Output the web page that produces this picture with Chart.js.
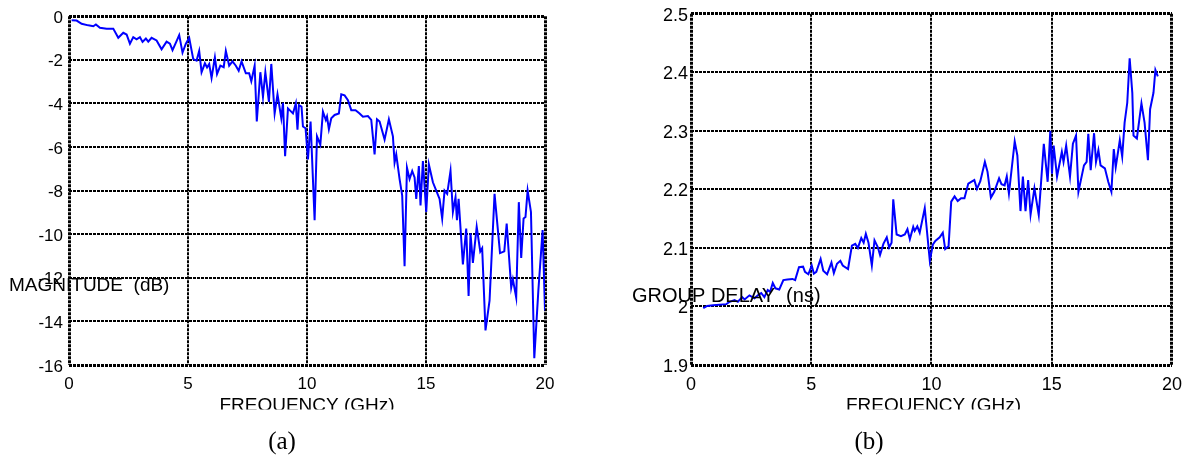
<!DOCTYPE html>
<html><head><meta charset="utf-8">
<script src="https://cdn.jsdelivr.net/npm/chart.js@4.4.1/dist/chart.umd.min.js"></script>
<style>
html,body{margin:0;padding:0;background:#fff;width:1191px;height:459px;overflow:hidden}
canvas{position:absolute;top:0}
#ca{left:0} #cb{left:595px}
</style></head><body>
<canvas id="ca" width="595" height="459"></canvas>
<canvas id="cb" width="596" height="459"></canvas>
<script>
// ---- Data (a): magnitude ----
const magFreq=[0.11,0.32,0.53,0.81,1.02,1.13,1.3,1.58,1.86,2.07,2.28,2.42,2.56,2.7,2.84,2.98,3.09,3.23,3.33,3.47,3.68,3.89,4.1,4.24,4.35,4.52,4.63,4.77,4.91,5.05,5.22,5.36,5.47,5.57,5.71,5.8,5.89,5.99,6.13,6.22,6.36,6.5,6.59,6.73,6.87,7.01,7.13,7.25,7.43,7.57,7.66,7.8,7.89,8.04,8.15,8.25,8.4,8.5,8.64,8.76,8.92,8.99,9.08,9.2,9.41,9.53,9.6,9.66,9.77,9.83,9.94,10.04,10.15,10.32,10.42,10.56,10.67,10.79,10.84,10.92,11.02,11.16,11.34,11.44,11.58,11.72,11.86,12.04,12.21,12.35,12.56,12.7,12.84,12.94,13.05,13.26,13.44,13.61,13.68,13.75,13.89,14.0,14.1,14.2,14.31,14.42,14.52,14.59,14.7,14.77,14.87,15.01,15.12,15.29,15.43,15.57,15.68,15.78,15.89,16.03,16.13,16.24,16.3,16.37,16.55,16.69,16.79,16.87,16.97,17.13,17.28,17.36,17.5,17.67,17.88,18.11,18.29,18.39,18.58,18.65,18.79,18.9,19.0,19.1,19.18,19.27,19.41,19.55,19.72,19.9,20.0];
const magDb=[-0.19,-0.2,-0.35,-0.42,-0.46,-0.38,-0.53,-0.57,-0.57,-0.99,-0.76,-0.84,-1.26,-0.96,-1.06,-0.96,-1.18,-1.02,-1.17,-0.99,-1.11,-1.52,-1.17,-1.26,-1.56,-1.14,-0.87,-1.67,-1.26,-0.99,-1.97,-2.04,-1.59,-2.57,-2.16,-2.35,-2.19,-2.83,-1.89,-2.65,-2.27,-2.34,-1.59,-2.27,-2.07,-2.27,-2.5,-2.07,-2.62,-2.62,-2.98,-2.27,-4.83,-2.57,-3.7,-2.57,-3.93,-2.19,-4.46,-3.58,-4.68,-3.97,-6.42,-4.23,-4.46,-4.0,-5.21,-4.08,-4.15,-5.06,-5.14,-6.57,-4.83,-9.36,-5.51,-5.89,-4.38,-4.76,-4.6,-5.18,-4.68,-4.53,-4.46,-3.58,-3.63,-3.85,-4.31,-4.31,-4.46,-4.61,-4.58,-4.76,-6.34,-4.73,-4.83,-5.66,-4.73,-5.51,-6.72,-6.34,-7.47,-8.23,-11.47,-6.95,-7.47,-7.1,-7.4,-8.38,-6.87,-8.68,-6.64,-8.98,-6.8,-7.62,-8.0,-8.38,-9.28,-8.0,-8.15,-7.1,-8.98,-8.3,-9.36,-8.38,-11.39,-9.74,-12.83,-9.96,-11.32,-9.66,-10.79,-10.64,-14.41,-13.05,-8.15,-10.87,-10.79,-9.51,-12.45,-12.07,-12.9,-8.53,-11.09,-9.28,-9.21,-8.0,-8.98,-15.69,-12.6,-9.81,-13.5];
// ---- Data (b): group delay ----
const gdFreq=[0.51,0.67,0.92,1.47,1.61,1.81,1.95,2.13,2.23,2.43,2.64,2.78,2.92,3.05,3.19,3.29,3.4,3.51,3.67,3.84,4.01,4.22,4.33,4.49,4.66,4.74,4.88,5.02,5.11,5.21,5.39,5.5,5.66,5.84,5.94,6.07,6.21,6.31,6.53,6.69,6.83,6.94,7.08,7.18,7.27,7.38,7.52,7.63,7.77,7.86,8.0,8.14,8.24,8.34,8.41,8.55,8.73,8.89,9.0,9.1,9.24,9.3,9.41,9.51,9.72,9.93,10.06,10.16,10.34,10.47,10.57,10.71,10.82,10.96,11.09,11.23,11.37,11.53,11.65,11.78,11.89,12.03,12.22,12.33,12.47,12.61,12.81,12.91,13.04,13.13,13.22,13.46,13.57,13.7,13.8,13.91,14.02,14.12,14.28,14.46,14.67,14.83,14.94,15.01,15.08,15.22,15.42,15.49,15.6,15.76,15.88,16.01,16.11,16.34,16.45,16.52,16.62,16.76,16.84,16.94,17.03,17.21,17.35,17.48,17.58,17.66,17.83,17.93,18.03,18.14,18.24,18.35,18.4,18.54,18.73,18.86,19.0,19.09,19.23,19.31,19.41];
const gdNs=[1.997,2.001,2.002,2.004,2.008,2.011,2.008,2.016,2.012,2.019,2.014,2.019,2.023,2.016,2.028,2.025,2.04,2.031,2.029,2.045,2.046,2.047,2.045,2.067,2.068,2.059,2.055,2.07,2.056,2.059,2.081,2.061,2.055,2.075,2.057,2.073,2.078,2.07,2.064,2.104,2.107,2.1,2.117,2.109,2.124,2.109,2.07,2.113,2.101,2.088,2.107,2.118,2.101,2.109,2.183,2.123,2.12,2.123,2.132,2.115,2.136,2.129,2.137,2.126,2.168,2.078,2.106,2.112,2.118,2.126,2.098,2.103,2.179,2.188,2.18,2.185,2.185,2.21,2.213,2.216,2.201,2.214,2.247,2.23,2.186,2.196,2.219,2.209,2.207,2.222,2.193,2.282,2.258,2.163,2.222,2.163,2.216,2.157,2.202,2.156,2.278,2.213,2.3,2.227,2.275,2.222,2.264,2.247,2.275,2.222,2.278,2.292,2.196,2.241,2.247,2.295,2.233,2.296,2.247,2.267,2.241,2.236,2.213,2.196,2.269,2.238,2.284,2.256,2.314,2.348,2.424,2.365,2.292,2.287,2.347,2.314,2.25,2.337,2.365,2.404,2.393];
// ---- Tick labels ----
const freqTicks=[0,5,10,15,20];
const magTicks=[0,-2,-4,-6,-8,-10,-12,-14,-16];
const gdTicks=[1.9,2.0,2.1,2.2,2.3,2.4,2.5];

const SANS="'Liberation Sans', Arial, sans-serif";
const SERIF="'Liberation Serif', 'Times New Roman', serif";

function textPlugin(cfg){
  return {id:'txt'+cfg.sub,afterDraw(chart){
    const c=chart.ctx; c.save();
    c.fillStyle='#000'; c.textAlign='left'; c.textBaseline='alphabetic';
    c.font=cfg.yfs+'px '+SANS;
    c.fillText(cfg.yTitle,cfg.yx,cfg.yb);
    c.font='19px '+SANS;
    c.save(); c.beginPath(); c.rect(0,380,chart.width,29.5); c.clip();
    c.textAlign='center'; c.fillText('FREQUENCY (GHz)',cfg.xc,411); c.restore();
    c.textAlign='center'; c.font='25px '+SERIF;
    c.fillText(cfg.sub,cfg.sc,449);
    c.restore();
  }};
}

function makeChart(id,xs,ys,yTicks,opts){
  const pts=xs.map((x,i)=>({x:x,y:ys[i]}));
  const edge=(v,a,b)=> (Math.abs(v-a)<1e-9||Math.abs(v-b)<1e-9);
  return new Chart(document.getElementById(id),{
    type:'line',
    data:{datasets:[{data:pts,borderColor:'#0000ff',borderWidth:2,pointRadius:0,tension:0,fill:false}]},
    options:{
      responsive:false,animation:false,devicePixelRatio:1,
      layout:{padding:{top:10,right:opts.padRight,left:0,bottom:0}},
      plugins:{legend:{display:false},tooltip:{enabled:false}},
      scales:{
        x:{type:'linear',min:0,max:20,
          afterBuildTicks:s=>{s.ticks=freqTicks.map(v=>({value:v}));},
          afterFit:s=>{s.height=94;},
          grid:{color:'#000',lineWidth:c=>edge(c.tick?c.tick.value:0,0,20)?3:2,drawTicks:false},
          border:{display:false,dash:[3,1]},
          ticks:{color:'#000',font:{family:SANS,size:opts.fs},padding:9,maxRotation:0}
        },
        y:{min:opts.ymin,max:opts.ymax,
          afterBuildTicks:s=>{s.ticks=yTicks.map(v=>({value:v}));},
          afterFit:s=>{s.width=opts.yw;},
          grid:{color:'#000',lineWidth:c=>edge(c.tick?c.tick.value:0,opts.ymin,opts.ymax)?3:2,drawTicks:false},
          border:{display:false,dash:[3,1]},
          ticks:{color:'#000',font:{family:SANS,size:opts.fs},padding:opts.ypad,labelOffset:2,
            callback:v=>String(Number(v.toFixed(1)))}
        }
      }
    },
    plugins:[textPlugin(opts.text)]
  });
}

makeChart('ca',magFreq,magDb,magTicks,{padRight:50,yw:69,fs:17,ypad:6,ymin:-16,ymax:0,
  text:{yTitle:'MAGNITUDE  (dB)',yfs:19,yx:9,yb:291,xc:307,sub:'(a)',sc:282}});
makeChart('cb',gdFreq,gdNs,gdTicks,{padRight:15,yw:96,fs:18,ypad:3,ymin:1.9,ymax:2.5,
  text:{yTitle:'GROUP DELAY  (ns)',yfs:20,yx:37,yb:302,xc:338.5,sub:'(b)',sc:274}});
</script>
</body></html>
